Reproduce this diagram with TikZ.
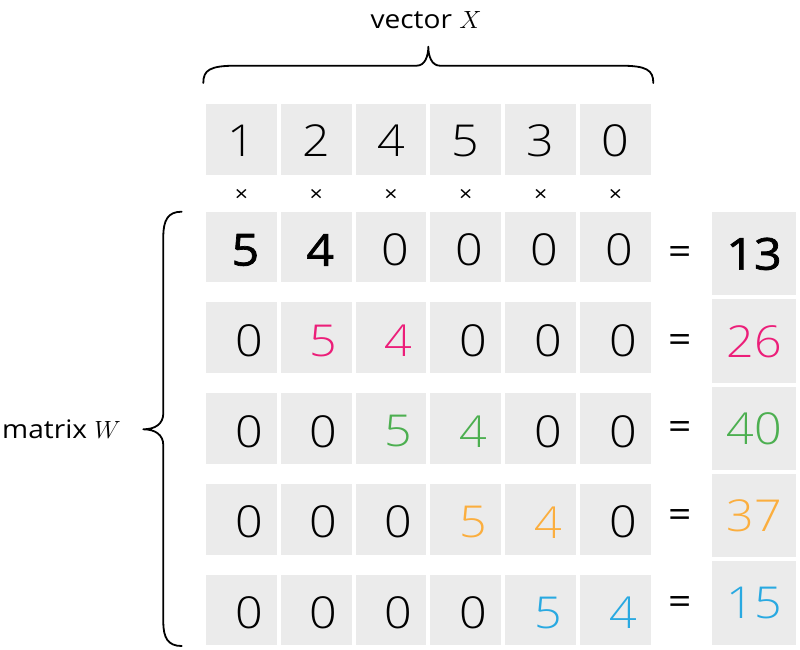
\documentclass[tikz,border=0pt]{standalone}
\usepackage{fontspec}
\setmainfont{Open Sans}[FakeStretch=1.1]
\newfontfamily\lightfont{Open Sans Light}[FakeStretch=1.1]
\newfontfamily\semifont{Open Sans}[FakeStretch=1.1,FakeBold=1.6]
\definecolor{cellgrey}{HTML}{EBEBEB}
\definecolor{c1}{HTML}{000000}
\definecolor{c2}{HTML}{EC1E79}
\definecolor{c3}{HTML}{4CAF50}
\definecolor{c4}{HTML}{FBAE3E}
\definecolor{c5}{HTML}{29A9E1}
\begin{document}
\begin{tikzpicture}[x=1pt,y=-1pt,
  cell/.style={fill=cellgrey, draw=none, minimum width=70.8pt, minimum height=70.7pt, inner sep=0pt},
  rescell/.style={fill=cellgrey, draw=none, minimum width=84pt, minimum height=83.4pt, inner sep=0pt},
  plain/.style={font=\lightfont\fontsize{44}{44}\selectfont, inner sep=0pt, text=black},
  hl1/.style={font=\semifont\fontsize{44}{44}\selectfont, inner sep=0pt, text=black},
  hl2/.style={plain, text=c2},
  hl3/.style={plain, text=c3},
  hl4/.style={plain, text=c4},
  hl5/.style={plain, text=c5},
  timesmark/.style={font=\fontsize{21}{21}\selectfont, inner sep=0pt},
  eqsign/.style={font=\fontsize{37}{37}\selectfont, inner sep=0pt},
  lbl/.style={font=\fontsize{25.5}{25.5}\selectfont, inner sep=0pt},
  brace/.style={line width=1.8pt, line cap=round, line join=round}
]
\useasboundingbox (0,0) rectangle (800,650);

% vector X
\foreach \c/\v in {1/1,2/2,3/4,4/5,5/3,6/0}{
  \pgfmathsetmacro\cx{241.4+74.8*(\c-1)}
  \node[cell] (v\c) at (\cx,139.5) {};
  \node[plain, yshift=-1.5pt] (tv\c) at (v\c) {\v};
  \node[timesmark] (x\c) at (\cx,195) {×};
}

% matrix W
\foreach \r in {1,...,5}{
  \pgfmathsetmacro\ry{247+90.75*(\r-1)}
  \pgfmathsetmacro\dx{ifthenelse(\r==1,4,7.5)}
  \foreach \c in {1,...,6}{
    \pgfmathsetmacro\cx{241.4+74.8*(\c-1)}
    \node[cell] (w\r\c) at (\cx,\ry) {};
    \ifnum\c=\r
      \def\val{5}\def\st{hl\r}%
    \else
      \ifnum\c=\numexpr\r+1\relax
        \def\val{4}\def\st{hl\r}%
      \else
        \def\val{0}\def\st{plain}%
      \fi
    \fi
    \node[\st, xshift=\dx pt, yshift=-3pt] (tw\r\c) at (w\r\c) {\val};
  }
}

% results
\foreach \r/\res in {1/13,2/26,3/40,4/37,5/15}{
  \pgfmathsetmacro\ry{253.4+87.4*(\r-1)}
  \node[rescell] (res\r) at (754,\ry) {};
  \node[hl\r, yshift=-0.5pt] (tres\r) at (res\r) {\res};
  \node[eqsign] (eq\r) at (680,{\ry+2.5}) {=};
}

% labels
\node[lbl] (labx) at (426,20) {vector $X$};
\node[lbl] (labw) at (61.5,429) {matrix $W$};

% top brace
\draw[brace] (203.3,83) .. controls (203.3,70) and (210,65.7) .. (236,65.7)
  -- (416.7,65.7) .. controls (425,65.7) and (428.3,56) .. (428.3,46.7)
  .. controls (428.3,56) and (431.6,65.7) .. (439.9,65.7)
  -- (620.6,65.7) .. controls (646.6,65.7) and (653.3,70) .. (653.3,83);

% left brace
\draw[brace] (181.7,211.7) .. controls (168,211.7) and (163.3,220) .. (163.3,236.7)
  -- (163.3,413.3) .. controls (163.3,424) and (155,429.3) .. (143.3,429.3)
  .. controls (155,429.3) and (163.3,434.6) .. (163.3,445.3)
  -- (163.3,621.7) .. controls (163.3,638) and (168,646) .. (181.7,646);
\end{tikzpicture}
\end{document}
